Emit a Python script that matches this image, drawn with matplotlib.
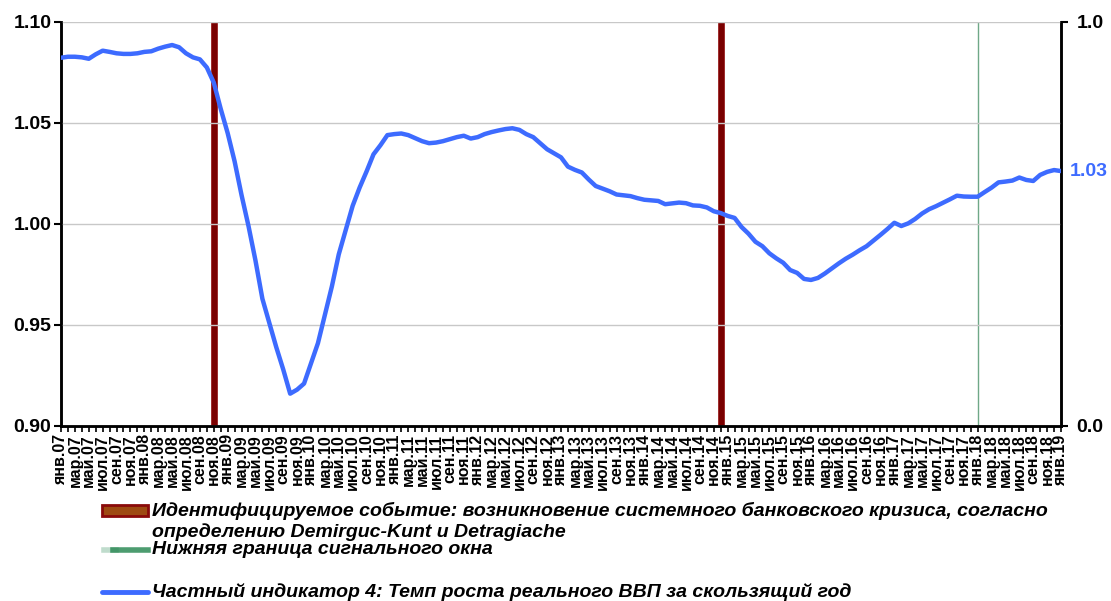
import numpy as np
import matplotlib.pyplot as plt
from matplotlib.patches import Rectangle
from matplotlib.lines import Line2D

plt.rcParams['font.family'] = ['Liberation Sans', 'DejaVu Sans']

# month labels, Jan 2007 .. Jan 2019
month_names = ['янв.', 'фев.', 'мар.', 'апр.', 'май.', 'июн.',
               'июл.', 'авг.', 'сен.', 'окт.', 'ноя.', 'дек.']
months = [f'{month_names[m]}{y % 100:02d}' for y in range(2007, 2019) for m in range(12)]
months.append('янв.19')

# Частный индикатор 4 (monthly values)
gdp_growth = [
    1.0823, 1.0828, 1.0828, 1.0825, 1.0818, 1.0840, 1.0858, 1.0852, 1.0845, 1.0842,
    1.0842, 1.0845, 1.0852, 1.0855, 1.0868, 1.0878, 1.0886, 1.0875, 1.0845, 1.0825,
    1.0815, 1.0775, 1.0700, 1.0570, 1.0450, 1.0310, 1.0143, 0.9990, 0.9820, 0.9630,
    0.9510, 0.9390, 0.9280, 0.9160, 0.9180, 0.9210, 0.9310, 0.9410, 0.9550, 0.9690,
    0.9850, 0.9970, 1.0090, 1.0180, 1.0260, 1.0345, 1.0390, 1.0440, 1.0445, 1.0448,
    1.0440, 1.0425, 1.0410, 1.0400, 1.0403, 1.0410, 1.0420, 1.0430, 1.0437, 1.0423,
    1.0430, 1.0445, 1.0455, 1.0463, 1.0470, 1.0474, 1.0466, 1.0445, 1.0430, 1.0400,
    1.0370, 1.0350, 1.0330, 1.0284, 1.0268, 1.0255, 1.0220, 1.0188, 1.0175, 1.0162,
    1.0146, 1.0142, 1.0138, 1.0128, 1.0120, 1.0117, 1.0114, 1.0098, 1.0102, 1.0106,
    1.0103, 1.0092, 1.0090, 1.0082, 1.0063, 1.0054, 1.0040, 1.0030, 0.9985, 0.9952,
    0.9912, 0.9890, 0.9855, 0.9830, 0.9808, 0.9772, 0.9758, 0.9728, 0.9723, 0.9733,
    0.9755, 0.9780, 0.9805, 0.9828, 0.9848, 0.9870, 0.9890, 0.9918, 0.9946, 0.9975,
    1.0006, 0.9990, 1.0003, 1.0025, 1.0052, 1.0073, 1.0088, 1.0105, 1.0122, 1.0140,
    1.0136, 1.0135, 1.0135, 1.0158, 1.0180, 1.0206, 1.0210, 1.0215, 1.0230, 1.0218,
    1.0213, 1.0243, 1.0258, 1.0267, 1.0262,
]

crisis_months = ['ноя.08', 'дек.14']
signal_months = ['янв.18']

left_ticks = [0.90, 0.95, 1.00, 1.05, 1.10]
right_ticks = [0.0, 1.0]

label_crisis = ('Идентифицируемое событие: возникновение системного банковского кризиса, согласно\n'
                'определению Demirguc-Kunt и Detragiache')
label_signal = 'Нижняя граница сигнального окна'
label_line = 'Частный индикатор 4: Темп роста реального ВВП за скользящий год'

blue = '#3D6BFF'
dark_red = '#7A0000'
green = '#6FA887'

x = np.arange(len(months))

fig = plt.figure(figsize=(11.11, 6.01), dpi=100)
ax = fig.add_axes([0.0549, 0.2912, 0.9001, 0.6722])
ax2 = ax.twinx()

# crisis bars and signal line on secondary axis (0..1)
crisis_idx = [months.index(m) for m in crisis_months]
ax2.bar(crisis_idx, [1.0] * len(crisis_idx), width=0.85, color=dark_red,
        edgecolor='#9A2020', linewidth=0.6, zorder=2)
for m in signal_months:
    ax2.axvline(months.index(m), color=green, lw=1.0, zorder=1)

ax.set_zorder(ax2.get_zorder() + 1)
ax.patch.set_visible(False)
ax.plot(x, gdp_growth, color=blue, lw=3.2, solid_capstyle='round', zorder=3)

ax.set_xlim(0, len(months) - 1)
ax.set_ylim(0.90, 1.10)
ax2.set_ylim(0.0, 1.0)

ax.set_yticks(left_ticks)
ax.set_yticklabels([f'{v:.2f}' for v in left_ticks], fontsize=14, fontweight='bold')
ax2.set_yticks(right_ticks)
ax2.set_yticklabels([f'{v:.1f}' for v in right_ticks], fontsize=14, fontweight='bold')

ax.set_xticks(x)
ax.set_xticklabels([m if i % 2 == 0 else '' for i, m in enumerate(months)],
                   rotation=90, fontsize=11.5, fontweight='bold')
ax.tick_params(axis='x', length=4, width=1.2, direction='out', pad=2)
ax.tick_params(axis='y', length=5, width=1.5, direction='out', pad=2)
ax2.tick_params(axis='y', length=5, width=1.5, direction='out', pad=6)

ax.grid(axis='y', color='#C8C8C8', lw=1.0)
ax.set_axisbelow(True)
for a in (ax, ax2):
    a.spines['top'].set_visible(False)
    a.spines['left'].set_linewidth(1.8)
    a.spines['right'].set_linewidth(1.8)
    a.spines['bottom'].set_linewidth(1.8)

# last value label
ax.annotate(f'{gdp_growth[-1]:.2f}', xy=(x[-1], gdp_growth[-1]), xytext=(6, 0),
            textcoords='offset points', va='center', ha='left',
            color=blue, fontsize=14, fontweight='bold', annotation_clip=False)

# legend drawn below the chart
fig.add_artist(Rectangle((0.0918, 0.1414), 0.0414, 0.0183, transform=fig.transFigure,
                         facecolor='#9E4A12', edgecolor='#8A0A0A', linewidth=2.0))
fig.text(0.137, 0.1323, label_crisis, fontsize=14, fontweight='bold', style='italic',
         va='center', ha='left', linespacing=1.2)
fig.add_artist(Line2D([0.102, 0.133], [0.0849, 0.0849], transform=fig.transFigure,
                      color='#2E8B57', lw=4, alpha=0.85))
fig.add_artist(Line2D([0.094, 0.104], [0.0849, 0.0849], transform=fig.transFigure,
                      color='#2E8B57', lw=4, alpha=0.3))
fig.text(0.137, 0.0849, label_signal, fontsize=14, fontweight='bold', style='italic',
         va='center', ha='left')
fig.add_artist(Line2D([0.092, 0.133], [0.0150, 0.0150], transform=fig.transFigure,
                      color=blue, lw=3.5, solid_capstyle='round'))
fig.text(0.137, 0.0150, label_line, fontsize=14, fontweight='bold', style='italic',
         va='center', ha='left')

fig.savefig('out.png', dpi=100)
